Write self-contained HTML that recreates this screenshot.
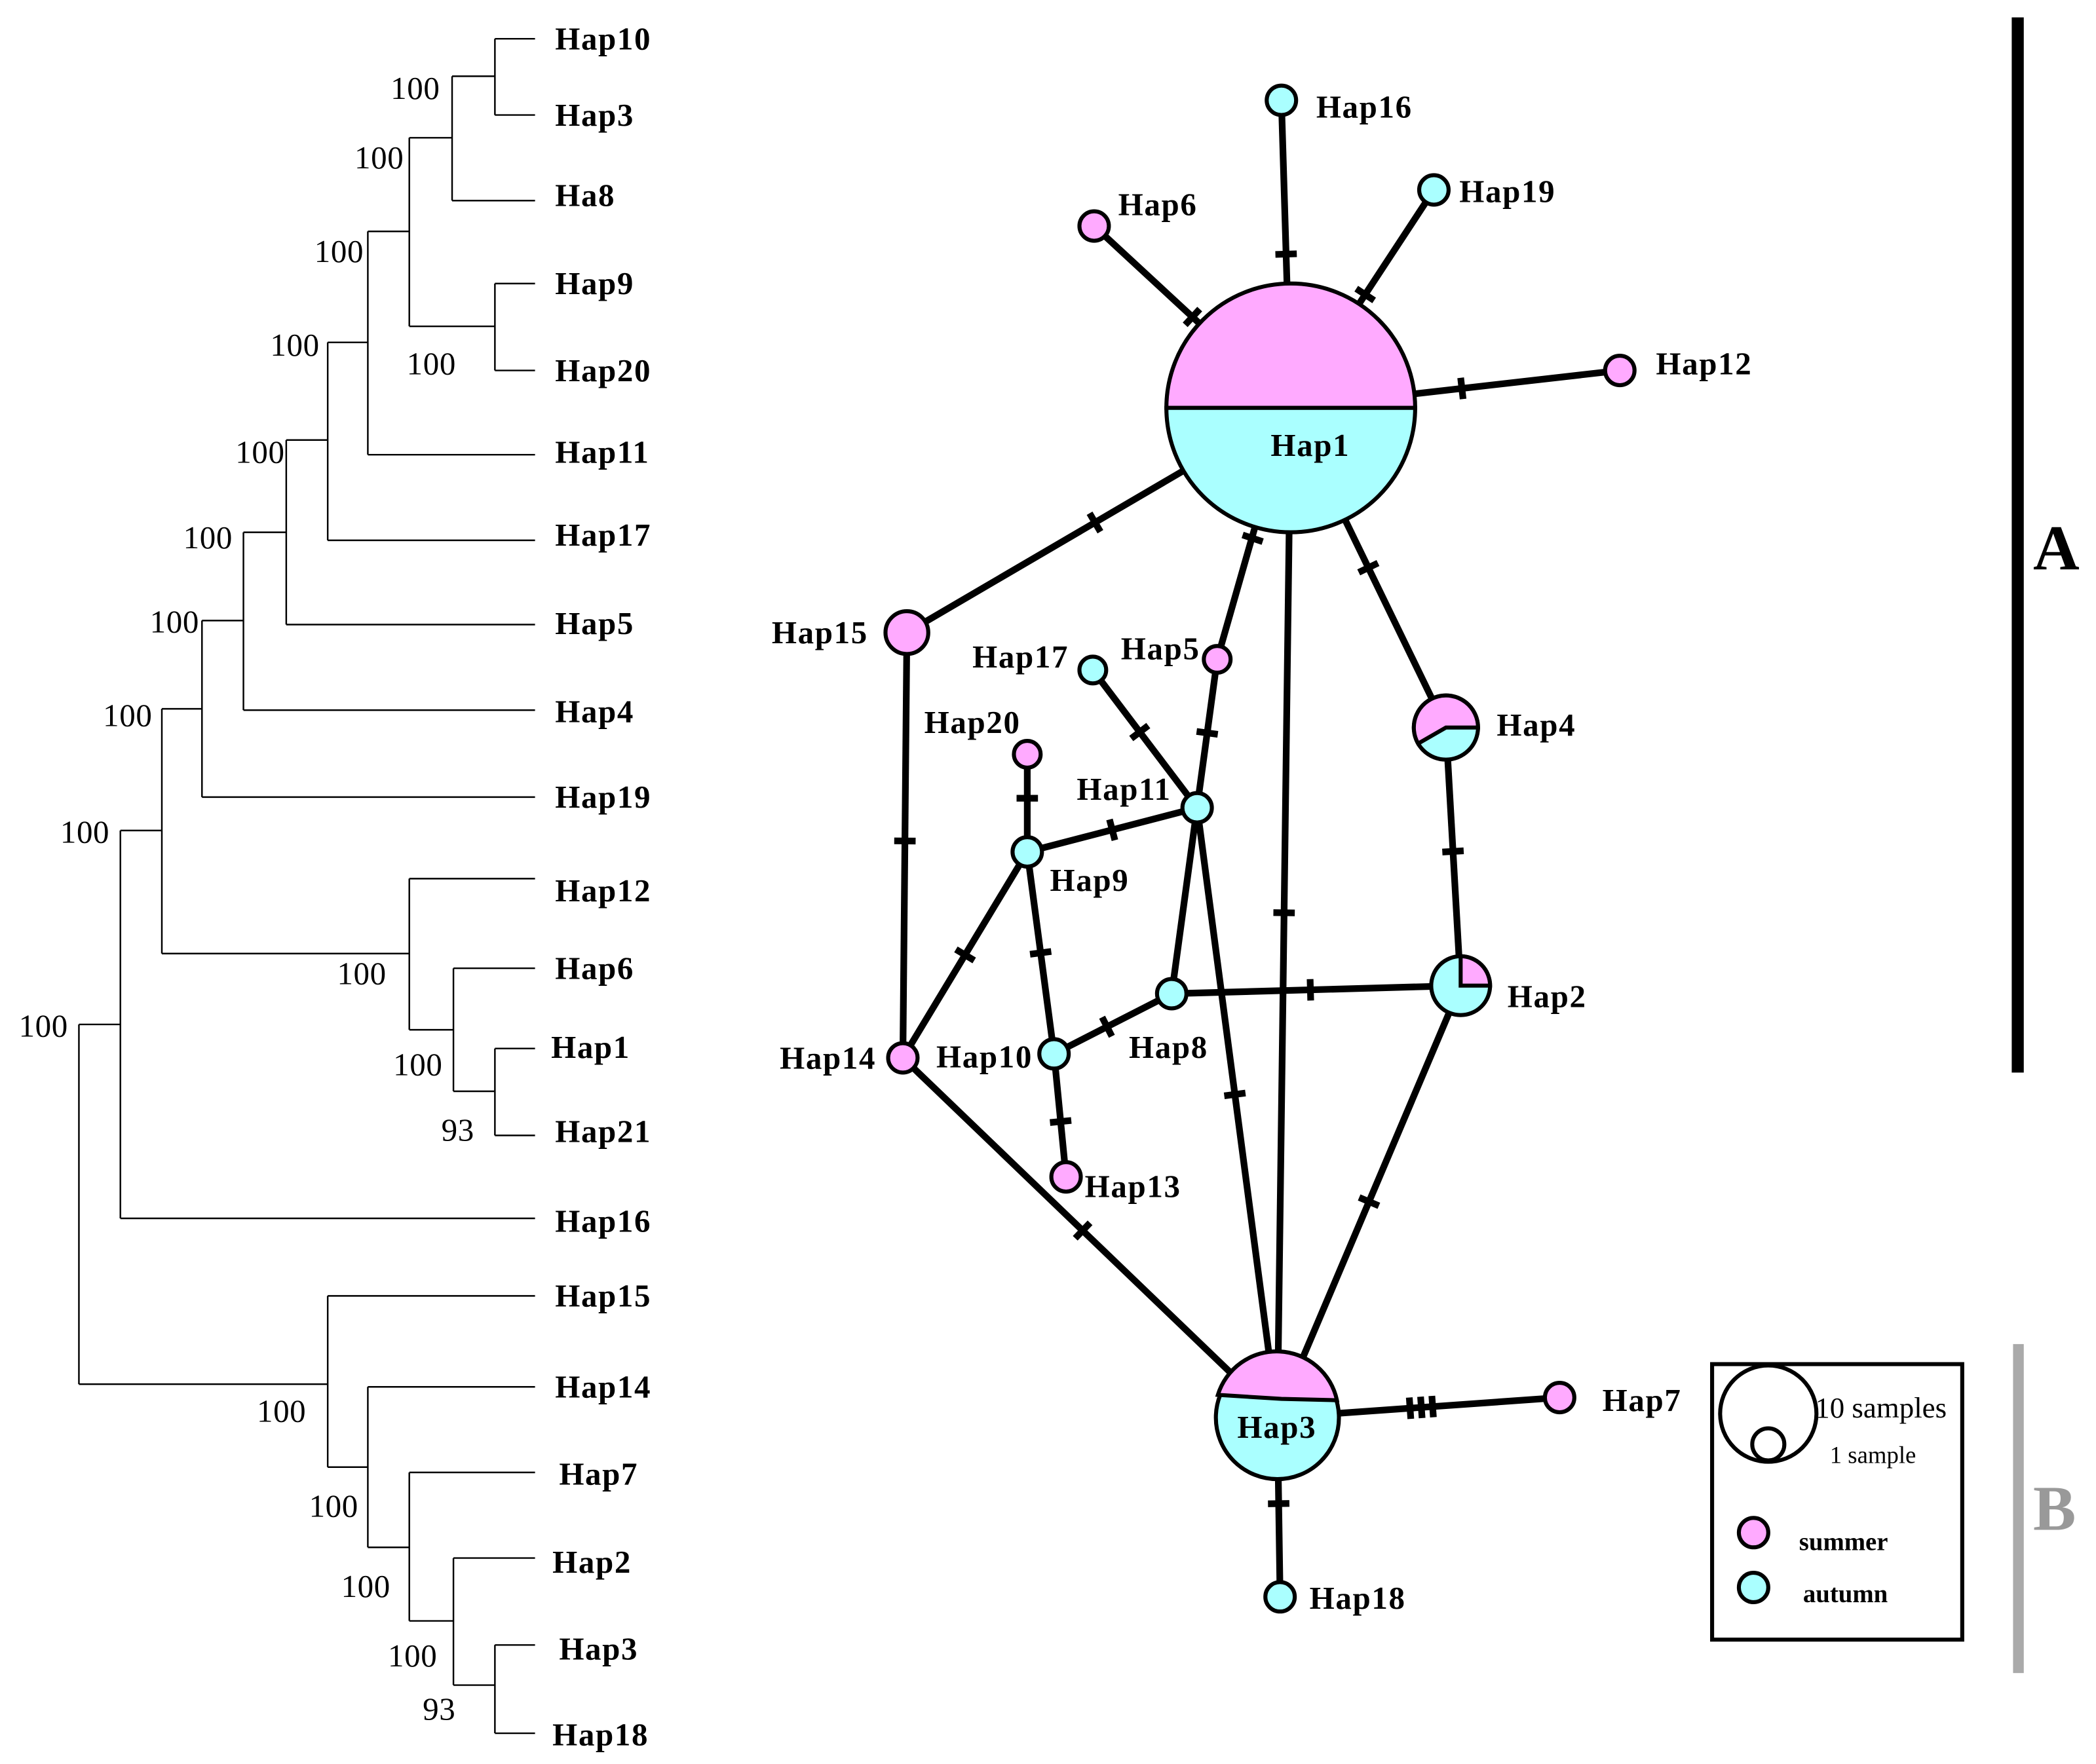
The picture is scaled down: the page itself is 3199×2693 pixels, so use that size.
<!DOCTYPE html>
<html><head><meta charset="utf-8"><style>
html,body{margin:0;padding:0;background:#fff;}
svg{display:block;}
text{font-family:"Liberation Serif",serif;}
.lf{font-weight:bold;font-size:24px;letter-spacing:0.8px;}
.bs{font-size:24px;letter-spacing:0.3px;}
.nl{font-weight:bold;font-size:24px;letter-spacing:0.8px;}
</style></head><body>
<svg id="s" width="3199" height="2693" viewBox="0 0 1567 1319" preserveAspectRatio="none" xmlns="http://www.w3.org/2000/svg">
<rect width="1567" height="1319" fill="#fff"/>
<g stroke="#000" stroke-width="1.2" fill="none">
<path d="M370 29V86M370 29H400M370 86H400"/>
<path d="M338 57V150M338 57H370M338 150H400"/>
<path d="M370 212V277M370 212H400M370 277H400"/>
<path d="M306 103V244M306 103H338M306 244H370"/>
<path d="M275 173V340M275 173H306M275 340H400"/>
<path d="M245 256V404M245 256H275M245 404H400"/>
<path d="M214 329V467M214 329H245M214 467H400"/>
<path d="M182 398V531M182 398H214M182 531H400"/>
<path d="M151 464V596M151 464H182M151 596H400"/>
<path d="M370 784V849M370 784H400M370 849H400"/>
<path d="M339 724V816M339 724H400M339 816H370"/>
<path d="M306 657V770M306 657H400M306 770H339"/>
<path d="M121 530V713M121 530H151M121 713H306"/>
<path d="M90 621V911M90 621H121M90 911H400"/>
<path d="M370 1230V1296M370 1230H400M370 1296H400"/>
<path d="M339 1165V1260M339 1165H400M339 1260H370"/>
<path d="M306 1101V1212M306 1101H400M306 1212H339"/>
<path d="M275 1037V1157M275 1037H400M275 1157H306"/>
<path d="M245 969V1097M245 969H400M245 1097H275"/>
<path d="M59 766V1035M59 766H90M59 1035H245"/>
</g>
<g class="lf">
<text x="415" y="37">Hap10</text><text x="415" y="94">Hap3</text><text x="415" y="154">Ha8</text>
<text x="415" y="220">Hap9</text><text x="415" y="285">Hap20</text><text x="415" y="346">Hap11</text>
<text x="415" y="408">Hap17</text><text x="415" y="474">Hap5</text><text x="415" y="540">Hap4</text>
<text x="415" y="604">Hap19</text><text x="415" y="674">Hap12</text><text x="415" y="732">Hap6</text>
<text x="412" y="791">Hap1</text><text x="415" y="854">Hap21</text><text x="415" y="921">Hap16</text>
<text x="415" y="977">Hap15</text><text x="415" y="1045">Hap14</text><text x="418" y="1110">Hap7</text>
<text x="413" y="1176">Hap2</text><text x="418" y="1241">Hap3</text><text x="413" y="1305">Hap18</text>
</g>
<g class="bs">
<text x="292" y="74">100</text><text x="265" y="126">100</text><text x="304" y="280">100</text>
<text x="235" y="196">100</text><text x="202" y="266">100</text><text x="176" y="346">100</text>
<text x="137" y="410">100</text><text x="112" y="473">100</text><text x="77" y="543">100</text>
<text x="330" y="853">93</text><text x="294" y="804">100</text><text x="252" y="736">100</text>
<text x="45" y="630">100</text><text x="14" y="775">100</text>
<text x="316" y="1286">93</text><text x="290" y="1246">100</text><text x="255" y="1194">100</text>
<text x="231" y="1134">100</text><text x="192" y="1063">100</text>
</g>
<g id="edges" stroke="#000" stroke-width="5" fill="none" stroke-linecap="butt"></g>
<g id="ticks" stroke="#000" stroke-width="5"></g>
<g stroke="#000" stroke-width="3">
<path d="M872 305A93 93 0 0 1 1058 305Z" fill="#ffaaff"/>
<path d="M872 305A93 93 0 0 0 1058 305Z" fill="#aaffff"/>
<circle cx="958" cy="75" r="11" fill="#aaffff"/>
<circle cx="1072" cy="142" r="11" fill="#aaffff"/>
<circle cx="818" cy="169" r="11" fill="#ffaaff"/>
<circle cx="1211" cy="277" r="11" fill="#ffaaff"/>
<circle cx="678" cy="473" r="16" fill="#ffaaff"/>
<circle cx="1081" cy="544" r="24" fill="#aaffff"/>
<path d="M1081 544L1105 544A24 24 0 1 0 1060.2 556Z" fill="#ffaaff"/>
<circle cx="817" cy="501" r="10" fill="#aaffff"/>
<circle cx="910" cy="493" r="10" fill="#ffaaff"/>
<circle cx="768" cy="564" r="10" fill="#ffaaff"/>
<circle cx="895" cy="604" r="11" fill="#aaffff"/>
<circle cx="768" cy="637" r="11" fill="#aaffff"/>
<circle cx="876" cy="743" r="11" fill="#aaffff"/>
<circle cx="1092" cy="737" r="22" fill="#aaffff"/>
<path d="M1092 737L1092 715A22 22 0 0 1 1114 737Z" fill="#ffaaff"/>
<circle cx="675" cy="791" r="11" fill="#ffaaff"/>
<circle cx="788" cy="788" r="11" fill="#aaffff"/>
<circle cx="797" cy="880" r="11" fill="#ffaaff"/>
<circle cx="955" cy="1060" r="46" fill="#aaffff"/>
<path d="M910.5 1043L958 1046L999.5 1047A46 46 0 0 0 910.5 1043Z" fill="#ffaaff"/>
<circle cx="1166" cy="1045" r="11" fill="#ffaaff"/>
<circle cx="957" cy="1194" r="11" fill="#aaffff"/>
</g>
<g class="nl">
<text x="984" y="88">Hap16</text><text x="1091" y="151">Hap19</text><text x="836" y="161">Hap6</text>
<text x="1238" y="280">Hap12</text><text x="950" y="341">Hap1</text><text x="577" y="481">Hap15</text>
<text x="727" y="499">Hap17</text><text x="838" y="493">Hap5</text><text x="691" y="548">Hap20</text>
<text x="805" y="598">Hap11</text><text x="785" y="666">Hap9</text><text x="1119" y="550">Hap4</text>
<text x="1127" y="753">Hap2</text><text x="844" y="791">Hap8</text><text x="700" y="798">Hap10</text>
<text x="583" y="799">Hap14</text><text x="811" y="895">Hap13</text><text x="925" y="1075">Hap3</text>
<text x="1198" y="1055">Hap7</text><text x="979" y="1203">Hap18</text>
</g>
<rect x="1280" y="1020" width="187" height="206" fill="none" stroke="#000" stroke-width="3"/>
<circle cx="1322" cy="1057" r="36" fill="#fff" stroke="#000" stroke-width="3"/>
<circle cx="1322" cy="1080" r="12" fill="#fff" stroke="#000" stroke-width="3"/>
<text x="1357" y="1060" font-size="22">10 samples</text>
<text x="1368" y="1094" font-size="18">1 sample</text>
<circle cx="1311" cy="1146" r="11" fill="#ffaaff" stroke="#000" stroke-width="3"/>
<circle cx="1311" cy="1187" r="11" fill="#aaffff" stroke="#000" stroke-width="3"/>
<text x="1345" y="1159" font-size="19" font-weight="bold">summer</text>
<text x="1348" y="1198" font-size="19" font-weight="bold">autumn</text>
<rect x="1504" y="13" width="9" height="789" fill="#000"/>
<text x="1520" y="426" font-size="48" font-weight="bold">A</text>
<rect x="1505" y="1005" width="8" height="246" fill="#aaaaaa"/>
<text x="1520" y="1144" font-size="48" font-weight="bold" fill="#999">B</text>
</svg>
<script>
var E=[
[965,305,958,75,[0.5]],[965,305,1072,142,[0.52]],[965,305,818,169,[0.5]],[965,305,1211,277,[0.52]],
[965,305,678,473,[0.51]],[965,305,1081,544,[0.5]],[965,305,955,1060,[0.5]],[938,395,910,493,[0.0]],
[910,493,876,743,[0.22]],[817,501,895,604,[0.45]],[895,604,768,637,[0.5]],[768,564,768,637,[0.45]],
[768,637,675,791,[0.5]],[768,637,788,788,[0.5]],[788,788,797,880,[0.55]],[788,788,876,743,[0.45]],
[876,743,1092,737,[0.48]],[895,604,955,1060,[0.47]],[678,473,675,791,[0.49]],[675,791,955,1060,[0.48]],
[1081,544,1092,737,[0.48]],[1092,737,955,1060,[0.5]],[955,1060,1166,1045,[0.47,0.51,0.55]],[955,1060,957,1194,[0.48]]
];
var ns="http://www.w3.org/2000/svg",eg=document.getElementById("edges"),tg=document.getElementById("ticks");
E.forEach(function(e){
 var l=document.createElementNS(ns,"line");
 l.setAttribute("x1",e[0]);l.setAttribute("y1",e[1]);l.setAttribute("x2",e[2]);l.setAttribute("y2",e[3]);eg.appendChild(l);
 var dx=e[2]-e[0],dy=e[3]-e[1],L=Math.sqrt(dx*dx+dy*dy),px=-dy/L*8,py=dx/L*8;
 e[4].forEach(function(t){ if(t<=0)return;
  var x=e[0]+dx*t,y=e[1]+dy*t,k=document.createElementNS(ns,"line");
  k.setAttribute("x1",x-px);k.setAttribute("y1",y-py);k.setAttribute("x2",x+px);k.setAttribute("y2",y+py);tg.appendChild(k);});
});
var k=document.createElementNS(ns,"line");k.setAttribute("x1",929);k.setAttribute("y1",400);k.setAttribute("x2",944);k.setAttribute("y2",405);tg.appendChild(k);
</script>
</body></html>
